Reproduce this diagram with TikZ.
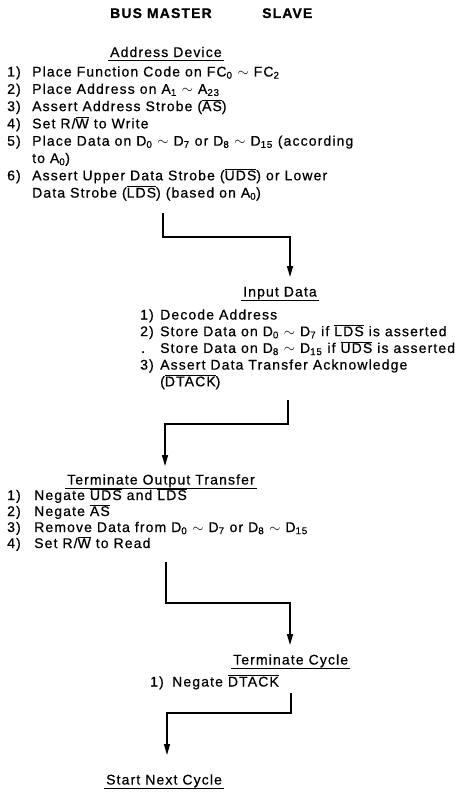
\documentclass[tikz,border=0pt]{standalone}
\usepackage{fontspec}
\setmainfont{Liberation Sans}[LetterSpace=8,FakeBold=0.6]
\usetikzlibrary{arrows.meta}
\newcommand\ovl[1]{\ensuremath{\overline{\mbox{#1}}}}
\newcommand\sbs[1]{\textsubscript{#1}}
\newcommand\tld{\ensuremath{\sim}}
\begin{document}
\begin{tikzpicture}[x=1pt,y=-1pt,
  txt/.style={anchor=base west,inner sep=0pt,font=\fontsize{14}{16}\selectfont},
  ttl/.style={anchor=base west,inner sep=0pt,font=\fontsize{14}{16}\selectfont\bfseries},
  flow/.style={line width=1.4pt,-{Triangle[width=6pt,length=11pt]}},
  uline/.style={line width=0.9pt}]
\useasboundingbox[fill=white] (0,0) rectangle (469,792);

% titles
\node[ttl] (tm) at (110,18) {BUS MASTER};
\node[ttl] (ts) at (262,18) {SLAVE};

% Address Device
\node[txt] (hA) at (110,57) {Address Device};
\draw[uline] ([xshift=-2pt,yshift=-3.5pt]hA.base west) -- ([xshift=2pt,yshift=-3.5pt]hA.base east);
\node[txt] (a1n) at (7,76.5) {1)};
\node[txt] (a1) at (32,76.5) {Place Function Code on FC\sbs{0} \tld{} FC\sbs{2}};
\node[txt] (a2n) at (7,93.8) {2)};
\node[txt] (a2) at (32,93.8) {Place Address on A\sbs{1} \tld{} A\sbs{23}};
\node[txt] (a3n) at (7,111.1) {3)};
\node[txt] (a3) at (32,111.1) {Assert Address Strobe (\ovl{AS})};
\node[txt] (a4n) at (7,128.4) {4)};
\node[txt] (a4) at (32,128.4) {Set R/\ovl{W} to Write};
\node[txt] (a5n) at (7,145.7) {5)};
\node[txt] (a5) at (32,145.7) {Place Data on D\sbs{0} \tld{} D\sbs{7} or D\sbs{8} \tld{} D\sbs{15} (according};
\node[txt] (a5b) at (32,163) {to A\sbs{0})};
\node[txt] (a6n) at (7,180.3) {6)};
\node[txt] (a6) at (32,180.3) {Assert Upper Data Strobe (\ovl{UDS}) or Lower};
\node[txt] (a6b) at (32,197.6) {Data Strobe (\ovl{LDS}) (based on A\sbs{0})};

% connector 1
\coordinate (s1) at (163,213);
\coordinate (m1) at (290,237);
\coordinate (e1) at (290,277);
\draw[flow] (s1) |- (m1) -- (e1);

% Input Data
\node[txt] (hI) at (243,296.5) {Input Data};
\draw[uline] ([xshift=-2pt,yshift=-3.5pt]hI.base west) -- ([xshift=2pt,yshift=-3.5pt]hI.base east);
\node[txt] (i1n) at (140,319.5) {1)};
\node[txt] (i1) at (160,319.5) {Decode Address};
\node[txt] (i2n) at (140,336.2) {2)};
\node[txt] (i2) at (160,336.2) {Store Data on D\sbs{0} \tld{} D\sbs{7} if \ovl{LDS} is asserted};
\node[txt] (i2d) at (141,352.9) {.};
\node[txt] (i2b) at (160,352.9) {Store Data on D\sbs{8} \tld{} D\sbs{15} if \ovl{UDS} is asserted};
\node[txt] (i3n) at (140,369.6) {3)};
\node[txt] (i3) at (160,369.6) {Assert Data Transfer Acknowledge};
\node[txt] (i3b) at (160,386.3) {(\ovl{DTACK})};

% connector 2
\coordinate (s2) at (288,400);
\coordinate (m2) at (165,424);
\coordinate (e2) at (165,466);
\draw[flow] (s2) |- (m2) -- (e2);

% Terminate Output Transfer
\node[txt] (hT) at (67,484.5) {Terminate Output Transfer};
\draw[uline] ([xshift=-2pt,yshift=-3.5pt]hT.base west) -- ([xshift=2pt,yshift=-3.5pt]hT.base east);
\node[txt] (t1n) at (7,500) {1)};
\node[txt] (t1) at (34,500) {Negate \ovl{UDS} and \ovl{LDS}};
\node[txt] (t2n) at (7,516) {2)};
\node[txt] (t2) at (34,516) {Negate \ovl{AS}};
\node[txt] (t3n) at (7,532) {3)};
\node[txt] (t3) at (34,532) {Remove Data from D\sbs{0} \tld{} D\sbs{7} or D\sbs{8} \tld{} D\sbs{15}};
\node[txt] (t4n) at (7,548) {4)};
\node[txt] (t4) at (34,548) {Set R/\ovl{W} to Read};

% connector 3
\coordinate (s3) at (166,562);
\coordinate (m3) at (290,603);
\coordinate (e3) at (290,645);
\draw[flow] (s3) |- (m3) -- (e3);

% Terminate Cycle
\node[txt] (hC) at (233,664.5) {Terminate Cycle};
\draw[uline] ([xshift=-2pt,yshift=-3.5pt]hC.base west) -- ([xshift=2pt,yshift=-3.5pt]hC.base east);
\node[txt] (c1n) at (150,686.5) {1)};
\node[txt] (c1) at (172,686.5) {Negate \ovl{DTACK}};

% connector 4
\coordinate (s4) at (291,693);
\coordinate (m4) at (167,713);
\coordinate (e4) at (167,755);
\draw[flow] (s4) |- (m4) -- (e4);

% Start Next Cycle
\node[txt] (hS) at (106,784.5) {Start Next Cycle};
\draw[uline] ([xshift=-2pt,yshift=-3.5pt]hS.base west) -- ([xshift=2pt,yshift=-3.5pt]hS.base east);
\end{tikzpicture}
\end{document}
